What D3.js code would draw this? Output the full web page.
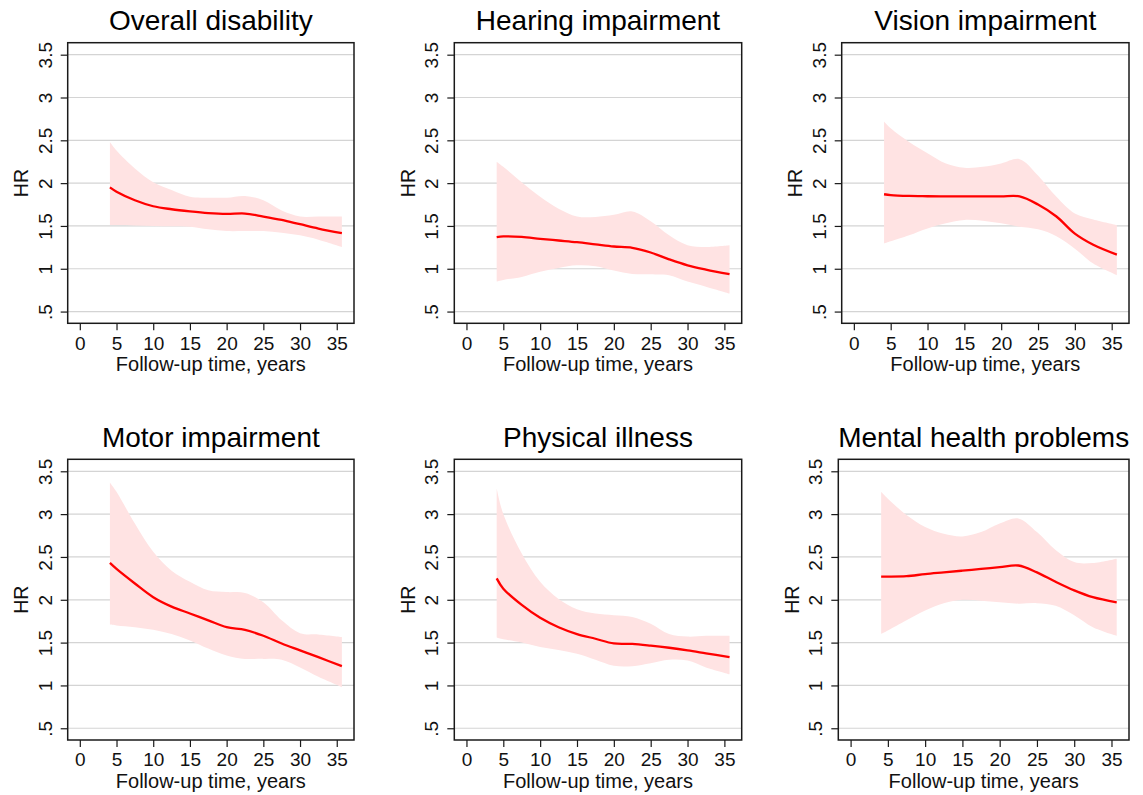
<!DOCTYPE html>
<html>
<head>
<meta charset="utf-8">
<script src="https://cdn.jsdelivr.net/npm/d3@7"></script>
<style>
  body { margin: 0; background: #fff; }
  svg { display: block; font-family: "Liberation Sans", Arial, sans-serif; }
</style>
</head>
<body>
<svg id="chart" width="1143" height="795"></svg>
<script>
// follow-up time points (years)
const years = [4.1, 5, 7.5, 10, 12.5, 15, 17.5, 20, 22.5, 25, 27.5, 30, 32.5, 35.7];

const titles = ["Overall disability", "Hearing impairment", "Vision impairment",
                "Motor impairment", "Physical illness", "Mental health problems"];

// hazard ratio estimates
const hrOverall  = [1.95, 1.90, 1.80, 1.73, 1.695, 1.67, 1.65, 1.64, 1.645, 1.61, 1.57, 1.52, 1.47, 1.415];
const hrHearing  = [1.37, 1.378, 1.372, 1.35, 1.33, 1.31, 1.285, 1.26, 1.245, 1.19, 1.11, 1.04, 0.99, 0.936];
const hrVision   = [1.87, 1.86, 1.85, 1.847, 1.845, 1.845, 1.845, 1.845, 1.845, 1.75, 1.61, 1.41, 1.28, 1.165];
const hrMotor    = [2.43, 2.36, 2.19, 2.03, 1.92, 1.84, 1.76, 1.68, 1.65, 1.58, 1.49, 1.41, 1.33, 1.225];
const hrPhysical = [2.25, 2.13, 1.94, 1.79, 1.68, 1.60, 1.545, 1.49, 1.485, 1.465, 1.44, 1.41, 1.375, 1.33];
const hrMental   = [2.27, 2.27, 2.275, 2.30, 2.32, 2.34, 2.36, 2.38, 2.40, 2.32, 2.21, 2.11, 2.03, 1.97];

// lower confidence limits
const loOverall  = [1.51, 1.51, 1.505, 1.50, 1.495, 1.49, 1.46, 1.44, 1.44, 1.44, 1.42, 1.39, 1.34, 1.255];
const loHearing  = [0.85, 0.87, 0.905, 0.965, 1.01, 1.04, 1.03, 0.98, 0.94, 0.935, 0.925, 0.85, 0.79, 0.71];
const loVision   = [1.295, 1.32, 1.39, 1.47, 1.53, 1.57, 1.56, 1.53, 1.49, 1.46, 1.38, 1.235, 1.06, 0.925];
const loMotor    = [1.71, 1.70, 1.68, 1.65, 1.60, 1.525, 1.43, 1.35, 1.31, 1.31, 1.30, 1.21, 1.10, 0.98];
const loPhysical = [1.56, 1.54, 1.50, 1.45, 1.415, 1.37, 1.30, 1.23, 1.225, 1.26, 1.30, 1.29, 1.21, 1.13];
const loMental   = [1.60, 1.64, 1.76, 1.875, 1.96, 2.00, 1.99, 1.97, 1.955, 1.96, 1.93, 1.82, 1.68, 1.58];

// upper confidence limits
const hiOverall  = [2.48, 2.38, 2.17, 2.01, 1.92, 1.84, 1.83, 1.83, 1.85, 1.80, 1.68, 1.61, 1.61, 1.61];
const hiHearing  = [2.25, 2.19, 2.01, 1.84, 1.70, 1.61, 1.605, 1.63, 1.67, 1.555, 1.39, 1.275, 1.255, 1.275];
const hiVision   = [2.72, 2.64, 2.48, 2.35, 2.23, 2.18, 2.19, 2.23, 2.28, 2.09, 1.84, 1.645, 1.575, 1.51];
const hiMotor    = [3.37, 3.26, 2.89, 2.56, 2.34, 2.21, 2.11, 2.09, 2.08, 1.97, 1.76, 1.61, 1.595, 1.565];
const hiPhysical = [3.30, 3.00, 2.54, 2.21, 2.01, 1.89, 1.84, 1.82, 1.80, 1.72, 1.60, 1.57, 1.58, 1.58];
const hiMental   = [3.26, 3.18, 2.99, 2.85, 2.77, 2.74, 2.79, 2.89, 2.95, 2.79, 2.58, 2.44, 2.43, 2.48];

const xTicks = [0, 5, 10, 15, 20, 25, 30, 35];
const yTicks = [0.5, 1, 1.5, 2, 2.5, 3, 3.5];
const yTickLabels = [".5", "1", "1.5", "2", "2.5", "3", "3.5"];

const hrSeries = [hrOverall, hrHearing, hrVision, hrMotor, hrPhysical, hrMental];
const loSeries = [loOverall, loHearing, loVision, loMotor, loPhysical, loMental];
const hiSeries = [hiOverall, hiHearing, hiVision, hiMotor, hiPhysical, hiMental];

// plot frames of the six panels
const frames = [
    { left: 67.7,  right: 354,    top: 42.7,  bottom: 323.3 },
    { left: 454.3, right: 741.7,  top: 42.7,  bottom: 323.3 },
    { left: 841.7, right: 1129,   top: 42.7,  bottom: 323.3 },
    { left: 67.7,  right: 354,    top: 459.3, bottom: 740 },
    { left: 454.3, right: 741.7,  top: 459.3, bottom: 740 },
    { left: 838.3, right: 1129,   top: 459.3, bottom: 740 }
];

const svg = d3.select("#chart");
const curve = d3.curveCatmullRom.alpha(0.5);

titles.forEach((title, i) => {
    const f = frames[i];
    const x = d3.scaleLinear().domain([-1.65, 37.35]).range([f.left, f.right]);
    const y = d3.scaleLinear().domain([0.363, 3.64]).range([f.bottom, f.top]);
    const g = svg.append("g");

    const rows = years.map((t, k) => ({ t, hr: hrSeries[i][k], lo: loSeries[i][k], hi: hiSeries[i][k] }));

    // grid lines
    g.selectAll(".grid")
        .data(yTicks)
        .enter().append("line")
        .attr("x1", f.left).attr("x2", f.right)
        .attr("y1", d => y(d)).attr("y2", d => y(d))
        .attr("stroke", "#d4d4d4")
        .attr("stroke-width", 1.2);

    // confidence band
    g.append("path")
        .datum(rows)
        .attr("fill", "#ffe3e3")
        .attr("d", d3.area()
            .x(d => x(d.t))
            .y0(d => y(d.lo))
            .y1(d => y(d.hi))
            .curve(curve));

    // HR line
    g.append("path")
        .datum(rows)
        .attr("fill", "none")
        .attr("stroke", "#ff0000")
        .attr("stroke-width", 2.3)
        .attr("d", d3.line()
            .x(d => x(d.t))
            .y(d => y(d.hr))
            .curve(curve));

    // frame
    g.append("rect")
        .attr("x", f.left).attr("y", f.top)
        .attr("width", f.right - f.left).attr("height", f.bottom - f.top)
        .attr("fill", "none")
        .attr("stroke", "#1a1a1a")
        .attr("stroke-width", 1.5);

    // x axis
    const xAxis = g.append("g")
        .attr("transform", `translate(0,${f.bottom})`)
        .call(d3.axisBottom(x).tickValues(xTicks).tickSize(7).tickPadding(6));
    xAxis.select(".domain").remove();
    xAxis.selectAll("line").attr("stroke", "#1a1a1a").attr("stroke-width", 1.2);
    xAxis.selectAll("text")
        .attr("fill", "#111")
        .style("font-size", "19px")
        .style("font-family", "'Liberation Sans', Arial, sans-serif");

    // y axis
    const yAxis = g.append("g")
        .attr("transform", `translate(${f.left},0)`)
        .call(d3.axisLeft(y).tickValues(yTicks).tickSize(7).tickFormat((d, k) => yTickLabels[k]));
    yAxis.select(".domain").remove();
    yAxis.selectAll("line").attr("stroke", "#1a1a1a").attr("stroke-width", 1.2);
    yAxis.selectAll("text")
        .attr("x", null).attr("dy", null)
        .attr("transform", "translate(-16,0) rotate(-90)")
        .attr("text-anchor", "middle")
        .attr("fill", "#111")
        .style("font-size", "19px")
        .style("font-family", "'Liberation Sans', Arial, sans-serif");

    // axis titles
    g.append("text")
        .attr("transform", `translate(${f.left - 39.5},${y(2)}) rotate(-90)`)
        .attr("text-anchor", "middle")
        .attr("fill", "#111")
        .style("font-size", "19.5px")
        .text("HR");

    g.append("text")
        .attr("x", (f.left + f.right) / 2)
        .attr("y", f.bottom + 48)
        .attr("text-anchor", "middle")
        .attr("fill", "#111")
        .style("font-size", "20px")
        .text("Follow-up time, years");

    // panel title
    g.append("text")
        .attr("x", (f.left + f.right) / 2)
        .attr("y", f.top - 12.5)
        .attr("text-anchor", "middle")
        .attr("fill", "#000")
        .style("font-size", "28px")
        .text(title);
});
</script>
</body>
</html>
